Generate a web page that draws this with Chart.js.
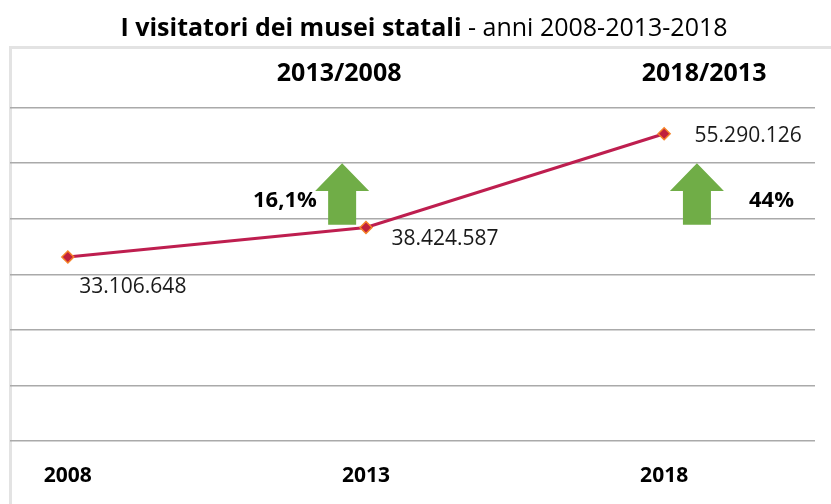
<!DOCTYPE html>
<html>
<head>
<meta charset="utf-8">
<script src="https://cdn.jsdelivr.net/npm/chart.js@4.4.1/dist/chart.umd.min.js"></script>
<style>
  html, body { margin: 0; padding: 0; background: #fff; }
  #wrap { position: relative; width: 831px; height: 504px; }
</style>
</head>
<body>
<div id="wrap"><canvas id="chart" width="831" height="504"></canvas></div>
<script>
// data
const years = [2008, 2013, 2018];
const yearLabels = ["2008", "2013", "2018"];
const visitors = [33106648, 38424587, 55290126];
const visitorLabels = ["33.106.648", "38.424.587", "55.290.126"];
const ratioTitles = ["2013/2008", "2018/2013"];
const ratioValues = ["16,1%", "44%"];
const yMax = 70000000;
const yStep = 10000000;

// where the annotations sit, in axis units
const ratioTitleX = [2012.55, 2018.67];
const ratioValueX = [2011.64, 2019.8];
const arrowX = [2012.6, 2018.55];
const labelDx = [65, 79, 84];
const labelDy = [30, 12, 2];

const FONT = "'Open Sans', 'Noto Sans', sans-serif";

const decor = {
  id: "decor",
  beforeDraw(chart) {
    const ctx = chart.ctx;
    ctx.save();
    // outer frame of the plot
    ctx.strokeStyle = "#e3e3e3";
    ctx.lineWidth = 3;
    ctx.strokeRect(10.5, 47.5, 900, 600);
    // title: bold part + normal part
    const boldPart = "I visitatori dei musei statali";
    const normalPart = " - anni 2008-2013-2018";
    ctx.textBaseline = "middle";
    ctx.fillStyle = "#000";
    ctx.font = "bold 25px " + FONT;
    const w1 = ctx.measureText(boldPart).width;
    ctx.font = "25px " + FONT;
    const w2 = ctx.measureText(normalPart).width;
    let x = 424 - (w1 + w2) / 2;
    ctx.textAlign = "left";
    ctx.font = "bold 25px " + FONT;
    ctx.fillText(boldPart, x, 29);
    ctx.font = "25px " + FONT;
    ctx.fillText(normalPart, x + w1, 29);
    ctx.restore();
  },
  afterDatasetsDraw(chart) {
    const ctx = chart.ctx;
    const xs = chart.scales.x;
    const ys = chart.scales.y;
    const meta = chart.getDatasetMeta(0);
    ctx.save();
    ctx.textAlign = "center";
    ctx.textBaseline = "middle";

    // value labels
    ctx.fillStyle = "#1a1a1a";
    ctx.font = "21px " + FONT;
    meta.data.forEach((pt, i) => {
      ctx.fillText(visitorLabels[i], pt.x + labelDx[i], pt.y + labelDy[i]);
    });

    // ratio headers and percentages
    ratioTitles.forEach((t, i) => {
      ctx.fillStyle = "#000";
      ctx.font = "bold 25px " + FONT;
      ctx.fillText(t, xs.getPixelForValue(ratioTitleX[i]), ys.getPixelForValue(66000000));
      ctx.font = "bold 22px " + FONT;
      ctx.fillText(ratioValues[i], xs.getPixelForValue(ratioValueX[i]), ys.getPixelForValue(43200000));

      // green arrow
      const cx = xs.getPixelForValue(arrowX[i]);
      const tip = ys.getPixelForValue(50000000);
      const base = ys.getPixelForValue(45000000);
      const bottom = ys.getPixelForValue(38900000);
      ctx.fillStyle = "#70ad47";
      ctx.beginPath();
      ctx.moveTo(cx, tip);
      ctx.lineTo(cx + 27, base);
      ctx.lineTo(cx + 14, base);
      ctx.lineTo(cx + 14, bottom);
      ctx.lineTo(cx - 14, bottom);
      ctx.lineTo(cx - 14, base);
      ctx.lineTo(cx - 27, base);
      ctx.closePath();
      ctx.fill();
    });
    ctx.restore();
  }
};

new Chart(document.getElementById("chart"), {
  type: "line",
  data: {
    datasets: [
      {
        label: "Visitatori",
        data: years.map((y, i) => ({ x: y, y: visitors[i] })),
        borderColor: "#be1e4f",
        borderWidth: 3,
        tension: 0,
        pointStyle: "rectRot",
        pointRadius: 6,
        pointHoverRadius: 6,
        pointBackgroundColor: "#c0203c",
        pointBorderColor: "#f5832a",
        pointBorderWidth: 1.5,
        clip: false
      }
    ]
  },
  options: {
    responsive: false,
    animation: false,
    devicePixelRatio: 1,
    layout: { padding: { left: 10, right: 16, top: 52, bottom: 17 } },
    plugins: {
      legend: { display: false },
      title: { display: false },
      tooltip: { enabled: false }
    },
    scales: {
      x: {
        type: "linear",
        min: 2007.03,
        max: 2020.53,
        afterBuildTicks: (scale) => {
          scale.ticks = years.map((v) => ({ value: v }));
        },
        afterFit: (scale) => {
          scale.height = 46;
        },
        grid: { display: false, drawTicks: false },
        border: { display: false },
        ticks: {
          autoSkip: false,
          maxRotation: 0,
          padding: 22,
          color: "#000",
          font: { family: FONT, size: 21, weight: "bold" },
          callback: (v) => yearLabels[years.indexOf(v)]
        }
      },
      y: {
        min: 0,
        max: yMax,
        ticks: { display: false, stepSize: yStep },
        border: { display: false },
        grid: {
          drawTicks: false,
          lineWidth: 1.5,
          color: (c) => (c.tick && c.tick.value === yMax ? "rgba(0,0,0,0)" : "#aaaaaa")
        }
      }
    }
  },
  plugins: [decor]
});
</script>
</body>
</html>
